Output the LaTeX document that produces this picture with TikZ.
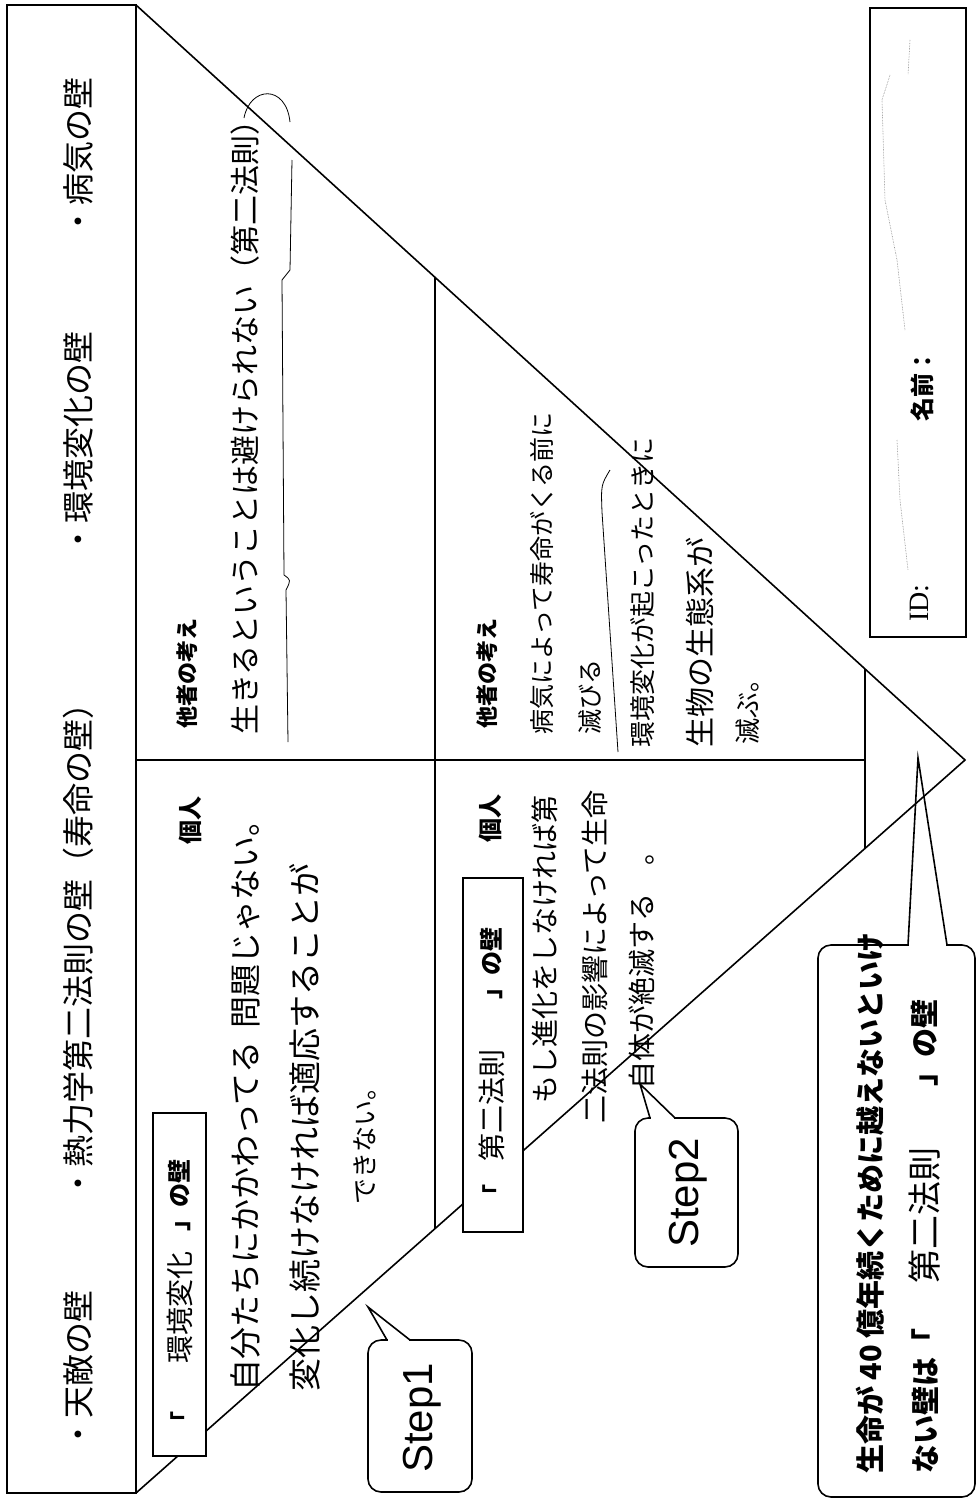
\documentclass[tikz,border=0pt]{standalone}
\usepackage{fontspec}
\setmainfont{Liberation Serif}
\newfontfamily\jp{Noto Sans CJK JP}
\newfontfamily\hw{Noto Sans CJK JP}
\newfontfamily\stf{Liberation Sans}
\usetikzlibrary{calc}
\newcommand\fsz[1]{\fontsize{#1}{#1}\selectfont}
\begin{document}
\begin{tikzpicture}[x=1pt,y=-1pt,
  ln/.style={line width=1.6pt, line join=miter},
  bxs/.style={line width=1.6pt, fill=white},
  bub/.style={line width=1.6pt, fill=white, rounded corners=13pt},
  lft/.style={rotate=90, inner sep=0pt, font=\jp\fsz{32}},
  prt/.style={rotate=90, inner sep=0pt},
  hand/.style={rotate=90, anchor=west, inner sep=0pt},
  uline/.style={line width=0.8pt}]
\useasboundingbox (0,0) rectangle (977,1499);
% main geometry
\coordinate (CL0) at (7,5);
\coordinate (TL) at (136,5);
\coordinate (BL) at (136,1493);
\coordinate (AP) at (965,760);
\coordinate (M0) at (136,760);
\coordinate (M1) at (865,760);
\coordinate (V1a) at ($(TL)!0.3607!(AP)$);
\coordinate (V1b) at ($(BL)!0.3607!(AP)$);
\coordinate (V2a) at ($(TL)!0.8794!(AP)$);
\coordinate (V2b) at ($(BL)!0.8794!(AP)$);
\draw[ln] (CL0) rectangle (BL);
\draw[ln] (TL) -- (AP) -- (BL);
\draw[ln] (M0) -- (M1);
\draw[ln] (V1a) -- (V1b);
\draw[ln] (V2a) -- (V2b);
% left column
\node[lft] (w1) at (78,1370) {・天敵の壁};
\node[lft] (w2) at (78,943) {・熱力学第二法則の壁（寿命の壁）};
\node[lft] (w3) at (78,443) {・環境変化の壁};
\node[lft] (w4) at (78,157) {・病気の壁};
% boxes
\draw[bxs] (153,1113) rectangle (206,1456);
\node[prt, font=\jp\bfseries\fsz{22}] (b1a) at (180,1422) {「};
\node[prt, font=\hw\fsz{28}] (b1b) at (180,1307) {環境変化};
\node[prt, anchor=west, font=\jp\bfseries\fsz{24}] (b1c) at (180,1232) {」の壁};
\draw[bxs] (463,878) rectangle (523,1232);
\node[prt, font=\jp\bfseries\fsz{22}] (b2a) at (492,1195) {「};
\node[prt, font=\hw\fsz{28}] (b2b) at (492,1105) {第二法則};
\node[prt, anchor=west, font=\jp\bfseries\fsz{24}] (b2c) at (492,1000) {」の壁};
% labels
\node[prt, font=\jp\bfseries\fsz{24}] (p1) at (190,820) {個人};
\node[prt, font=\jp\bfseries\fsz{22}] (o1) at (187,673) {他者の考え};
\node[prt, font=\jp\bfseries\fsz{24}] (p2) at (490,818) {個人};
\node[prt, font=\jp\bfseries\fsz{22}] (o2) at (487,673) {他者の考え};
% step1 individual
\node[hand, font=\hw\fsz{32}] (h1) at (245,1392) {自分たちにかかわってる\hspace{0.4em}問題じゃない。};
\node[hand, font=\hw\fsz{33}] (h2) at (305,1392) {変化し続けなければ適応することが};
\node[hand, font=\hw\fsz{26}] (h3) at (365,1205) {できない。};
% step1 others
\node[hand, font=\hw\fsz{30}] (h4) at (245,735) {生きるということは避けられない（第二法則）};
\draw[uline] (244,118) .. controls (250,86) and (286,84) .. (290,122);
\draw[uline] (292,160) -- (290,270) -- (282,280) -- (284,575) .. controls (291,580) .. (286,590) -- (288,742);
% step2 others
\node[hand, font=\hw\fsz{25}] (h5) at (542,735) {病気によって寿命がくる前に};
\node[hand, font=\hw\fsz{25}] (h6) at (590,735) {滅びる};
\draw[uline] (610,470) .. controls (601,485) .. (602,512) -- (618,752);
\node[hand, font=\hw\fsz{26}] (h7) at (643,748) {環境変化が起こったときに};
\node[hand, font=\hw\fsz{30}] (h8) at (700,748) {生物の生態系が};
\node[hand, font=\hw\fsz{26}] (h9) at (748,745) {滅ぶ。};
% step2 individual
\node[hand, font=\hw\fsz{28}] (h10) at (545,1104) {もし進化をしなければ第};
\node[hand, font=\hw\fsz{28}] (h11) at (595,1124) {二法則の影響によって生命};
\node[hand, font=\hw\fsz{28}] (h12) at (642,1090) {自体が絶滅する\hspace{1em}。};
% Step1 bubble
\draw[bub] (368,1340) rectangle (472,1492);
\fill[white] (388,1338) rectangle (409,1342);
\coordinate (s1a) at (387,1340); \coordinate (s1t) at (368,1307); \coordinate (s1b) at (410,1340);
\draw[ln] (s1a) -- (s1t) -- (s1b);
\node[prt, font=\stf\fsz{42}] (st1) at (422,1418) {Step1};
% Step2 bubble
\draw[bub] (635,1118) rectangle (738,1267);
\fill[white] (651,1116) rectangle (674,1120);
\coordinate (s2a) at (650,1118); \coordinate (s2t) at (640,1084); \coordinate (s2b) at (675,1118);
\draw[ln] (s2a) -- (s2t) -- (s2b);
\node[prt, font=\stf\fsz{42}] (st2) at (688,1193) {Step2};
% bottom bubble
\draw[bub] (818,945) rectangle (975,1497);
\fill[white] (909,943) rectangle (946,947);
\coordinate (s3a) at (908,945); \coordinate (s3t) at (918,758); \coordinate (s3b) at (947,945);
\draw[ln] (s3a) -- (s3t) -- (s3b);
\node[hand, font=\jp\bfseries\fsz{29}] (c1) at (870,1474) {生命が 40 億年続くために越えないといけ};
\node[hand, font=\jp\bfseries\fsz{29}] (c2) at (925,1474) {ない壁は「};
\node[prt, font=\hw\fsz{34}] (c3) at (925,1215) {第二法則};
\node[hand, font=\jp\bfseries\fsz{29}] (c4) at (925,1087) {」の壁};
% ID box
\draw[ln] (870,8) rectangle (966,637);
\node[prt, font=\jp\bfseries\fsz{24}] (nm) at (922,385) {名前：};
\node[prt, font=\fsz{28}] (id) at (920,603) {ID:};
\draw[gray, densely dotted, line width=0.6pt] (910,40) -- (908,75) (890,75) -- (882,100) -- (885,200) -- (897,260) -- (905,330);
\draw[gray, densely dotted, line width=0.6pt] (897,440) -- (900,500) -- (908,570);
\end{tikzpicture}
\end{document}
